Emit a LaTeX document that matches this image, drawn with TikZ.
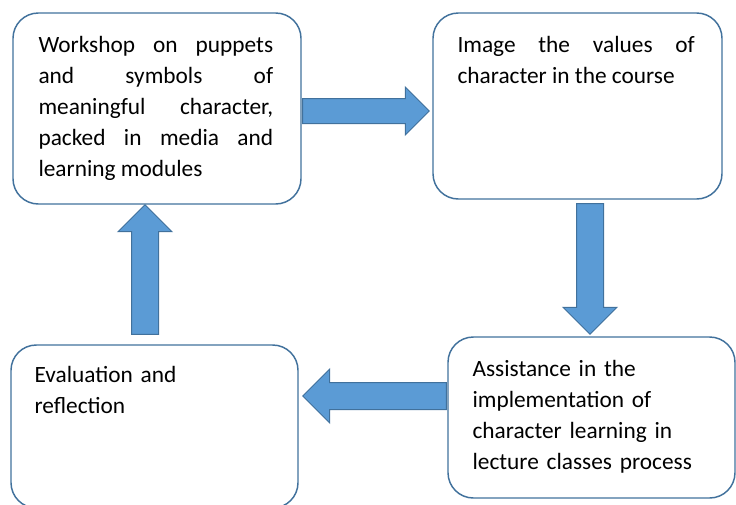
\documentclass[tikz,border=0pt]{standalone}
\usepackage{fontspec}
\setmainfont{Carlito}
\usepackage{tikz}
\usetikzlibrary{positioning,calc,shapes.arrows}

\definecolor{boxline}{HTML}{41719C}
\definecolor{arrowfill}{HTML}{5B9BD5}

\hyphenpenalty=10000
\exhyphenpenalty=10000
\tolerance=9999
\hbadness=10000

\tikzset{
	stagebox/.style={draw=boxline, line width=1.1pt, rounded corners=19pt, inner sep=0pt},
	stagetext/.style={inner sep=0pt, text width=#1, font=\fontsize{17.5}{23.25}\selectfont},
	flowarrow/.style={single arrow, draw=boxline, fill=arrowfill, line width=0.75pt,
		inner xsep=0pt, inner ysep=9.75pt, outer sep=0pt, single arrow head extend=10pt,
		sloped, allow upside down}
}

% block arrow between two named coordinates
\newcommand{\flowbetween}[3][]{%
	\path let \p1=($(#3)-(#2)$) in (#2) -- (#3)
		node[flowarrow, #1, pos=0, anchor=tail, minimum height={veclen(\x1,\y1)}] {};}

\begin{document}
\begin{tikzpicture}[x=0.75pt, y=-0.75pt]
	\useasboundingbox (0,0) rectangle (736,504);

	% the four stages
	\node[stagebox, minimum width=216pt, minimum height=143.25pt] (b1) at (157,108.5) {};
	\node[stagebox, minimum width=216.75pt, minimum height=139.5pt] (b2) at (577.5,106) {};
	\node[stagebox, minimum width=215.25pt, minimum height=120.75pt] (b3) at (591.5,417.5) {};
	\node[stagebox, minimum width=215.25pt, minimum height=122.25pt] (b4) at (154.5,426.5) {};

	\node[stagetext=176pt, align=justify, below right=18pt and 19.5pt of b1.north west] (t1)
		{Workshop on puppets and symbols of meaningful character, packed in media and learning modules};
	\node[stagetext=178pt, align=justify, below right=18pt and 18.75pt of b2.north west] (t2)
		{Image the values of character in the course};
	\node[stagetext=178pt, align=left, below right=18pt and 18.75pt of b3.north west] (t3)
		{Assistance in the implementation of character learning in lecture classes process};
	\node[stagetext=150pt, align=left, below right=16.5pt and 18pt of b4.north west] (t4)
		{Evaluation and reflection};

	% arrow ends
	\coordinate (a1s) at ($(b1.east)+(1,2.5)$);
	\coordinate (a1e) at ($(b2.west)+(-3,5)$);
	\coordinate (a2s) at ($(b2.south)+(12.5,4)$);
	\coordinate (a2e) at ($(b3.north)+(-1.5,-2)$);
	\coordinate (a3s) at ($(b3.west)+(-1,-21.5)$);
	\coordinate (a3e) at ($(b4.east)+(4,-30.5)$);
	\coordinate (a4s) at ($(b4.north)+(-9.5,-10)$);
	\coordinate (a4e) at ($(b1.south)+(-12,0)$);

	\flowbetween[inner ysep=9pt, single arrow head extend=8.6pt]{a1s}{a1e}
	\flowbetween{a2s}{a2e}
	\flowbetween{a3s}{a3e}
	\flowbetween{a4s}{a4e}
\end{tikzpicture}
\end{document}
